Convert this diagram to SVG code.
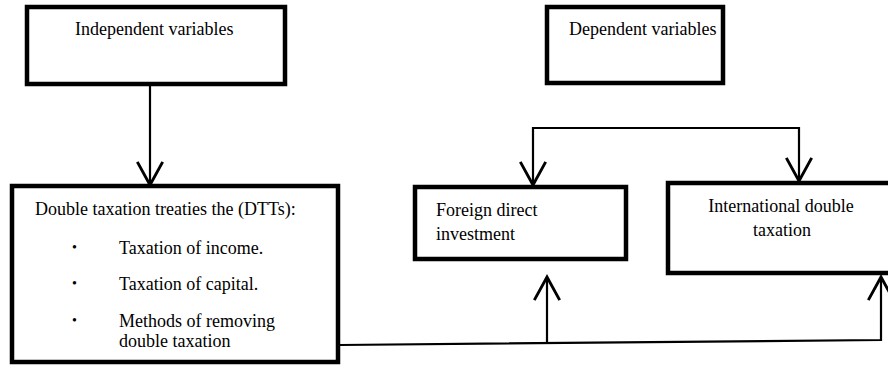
<svg xmlns="http://www.w3.org/2000/svg" width="888" height="366" viewBox="0 0 888 366">
<style>
.box{fill:#fff;stroke:#000;stroke-width:4.5}
.t{font-family:"Liberation Serif","Times New Roman",serif;font-size:18px;fill:#000}
.c{fill:none;stroke:#000;stroke-width:2.2}
.b{font-family:"Liberation Serif","Times New Roman",serif;font-size:14px;fill:#000}
</style>
<defs>
<marker id="ah" markerUnits="userSpaceOnUse" markerWidth="30" markerHeight="30" viewBox="-22 -13 24 26" refX="0" refY="0" orient="auto">
<path d="M-20,-11 L0,0 L-20,11" fill="none" stroke="#000" stroke-width="2.5"/>
</marker>
</defs>
<rect width="888" height="366" fill="#fff"/>
<g id="independent">
<rect class="box" x="27" y="7" width="258" height="77"/>
<text class="t" x="75" y="35">Independent variables</text>
</g>
<g id="dependent">
<rect class="box" x="547" y="7" width="176" height="76"/>
<text class="t" x="569" y="35">Dependent variables</text>
</g>
<g id="dtt">
<rect class="box" x="12" y="186" width="326" height="176"/>
<text class="t" x="35" y="215">Double taxation treaties the (DTTs):</text>
<text class="b" x="72" y="252">•</text>
<text class="t" x="119" y="254">Taxation of income.</text>
<text class="b" x="72" y="288">•</text>
<text class="t" x="119" y="290">Taxation of capital.</text>
<text class="b" x="72" y="325">•</text>
<text class="t" x="119" y="327">Methods of removing</text>
<text class="t" x="119" y="347">double taxation</text>
</g>
<g id="fdi">
<rect class="box" x="415" y="187" width="211" height="72"/>
<text class="t" x="436" y="216">Foreign direct</text>
<text class="t" x="436" y="240">investment</text>
</g>
<g id="idt">
<rect class="box" x="668" y="183" width="240" height="90"/>
<text class="t" x="781" y="212" text-anchor="middle">International double</text>
<text class="t" x="782" y="236" text-anchor="middle">taxation</text>
</g>
<g id="connectors">
<path class="c" d="M150,86 V185" marker-end="url(#ah)"/>
<path class="c" d="M799,128 H533 V185" marker-end="url(#ah)"/>
<path class="c" d="M533,128 H799 V181" marker-end="url(#ah)"/>
<path class="c" d="M340,345 L881,340 V277" marker-end="url(#ah)"/>
<path class="c" d="M547,343 V277" marker-end="url(#ah)"/>
</g>
</svg>
